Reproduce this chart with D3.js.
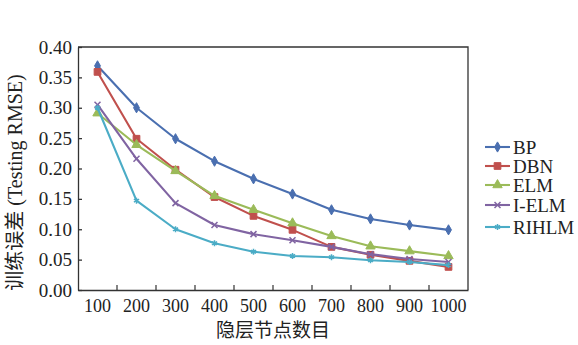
<!DOCTYPE html>
<html>
<head>
<meta charset="utf-8">
<script src="https://cdn.jsdelivr.net/npm/d3@7"></script>
<style>
  body { margin: 0; background: #fff; }
  svg text { font-family: "Liberation Serif", "Times New Roman", "Noto Sans CJK SC", serif; fill: #222; }
</style>
</head>
<body>
<div id="chart"></div>
<script>
const nodes = ["100", "200", "300", "400", "500", "600", "700", "800", "900", "1000"];
const bp    = [0.369, 0.300, 0.249, 0.212, 0.183, 0.158, 0.132, 0.117, 0.107, 0.099];
const dbn   = [0.359, 0.249, 0.198, 0.153, 0.122, 0.099, 0.071, 0.058, 0.048, 0.038];
const elm   = [0.291, 0.239, 0.196, 0.155, 0.132, 0.110, 0.089, 0.072, 0.064, 0.056];
const ielm  = [0.305, 0.216, 0.143, 0.107, 0.092, 0.082, 0.071, 0.059, 0.051, 0.046];
const rihlm = [0.300, 0.147, 0.100, 0.077, 0.063, 0.056, 0.054, 0.049, 0.046, 0.041];
const yTicks = [0, 0.05, 0.10, 0.15, 0.20, 0.25, 0.30, 0.35, 0.40];

const series = [
    {name: "BP",    values: bp,    color: "#4a6fb0", symbol: d3.symbolDiamond,  size: 30, fill: true},
    {name: "DBN",   values: dbn,   color: "#c0504d", symbol: d3.symbolSquare,   size: 45, fill: true},
    {name: "ELM",   values: elm,   color: "#9bbb59", symbol: d3.symbolTriangle, size: 38, fill: true},
    {name: "I-ELM", values: ielm,  color: "#8064a2", symbol: d3.symbolTimes,    size: 25, fill: false},
    {name: "RIHLM", values: rihlm, color: "#4bacc6", symbol: d3.symbolAsterisk, size: 25, fill: false}
];

const margin = {top: 47, right: 110, bottom: 55, left: 78};
const W = 578, H = 345;
const width = W - margin.left - margin.right,
      height = H - margin.top - margin.bottom;

const svg = d3.select("#chart")
    .append("svg")
    .attr("width", W)
    .attr("height", H)
    .append("g")
    .attr("transform", "translate(" + margin.left + "," + margin.top + ")");

let x = d3.scaleBand()
    .domain(nodes)
    .range([0, width]);

let y = d3.scaleLinear()
    .domain([0, 0.4])
    .range([height, 0]);

// y axis, ticks pointing inward
svg.append("g")
    .call(d3.axisLeft(y)
        .tickValues(yTicks)
        .tickFormat(d3.format(".2f"))
        .tickSizeInner(-4)
        .tickSizeOuter(0)
        .tickPadding(6))
    .call(g => g.selectAll("text").style("font-size", "19px"))
    .call(g => g.selectAll("line, path").attr("stroke", "#333").attr("stroke-width", 1.3));

// x axis labels at band centres
svg.append("g")
    .attr("transform", "translate(0," + height + ")")
    .call(d3.axisBottom(x)
        .tickSize(0)
        .tickPadding(9))
    .call(g => g.selectAll("text").style("font-size", "18px"))
    .call(g => g.select("path").attr("stroke", "#333").attr("stroke-width", 1.3));

// x ticks sit on band boundaries
svg.append("g")
    .selectAll("line")
    .data(nodes.slice(1))
    .join("line")
    .attr("x1", d => x(d))
    .attr("x2", d => x(d))
    .attr("y1", height)
    .attr("y2", height - 5)
    .attr("stroke", "#333")
    .attr("stroke-width", 1.2);

// top and right frame
svg.append("path")
    .attr("d", "M0,0H" + width + "V" + height)
    .attr("fill", "none")
    .attr("stroke", "#333")
    .attr("stroke-width", 1.3);

const line = d3.line()
    .x((d, i) => x(nodes[i]) + x.bandwidth() / 2)
    .y(d => y(d));

series.forEach(s => {
    svg.append("path")
        .datum(s.values)
        .attr("fill", "none")
        .attr("stroke", s.color)
        .attr("stroke-width", 2.1)
        .attr("stroke-linejoin", "round")
        .attr("d", line);

    svg.append("g")
        .selectAll("path")
        .data(s.values)
        .join("path")
        .attr("transform", (d, i) => "translate(" + (x(nodes[i]) + x.bandwidth() / 2) + "," + y(d) + ")")
        .attr("d", d3.symbol().type(s.symbol).size(s.size))
        .attr("fill", s.fill ? s.color : "none")
        .attr("stroke", s.color)
        .attr("stroke-width", s.fill ? 1 : 1.5);
});

// legend
const legendY = [147, 166, 185, 205, 227];
const legend = svg.append("g")
    .attr("transform", "translate(" + (width + 17) + ",0)");
series.forEach((s, i) => {
    const ly = legendY[i] - margin.top;
    legend.append("line")
        .attr("x1", 0).attr("x2", 25)
        .attr("y1", ly).attr("y2", ly)
        .attr("stroke", s.color)
        .attr("stroke-width", 2.1);
    legend.append("path")
        .attr("transform", "translate(12.5," + ly + ")")
        .attr("d", d3.symbol().type(s.symbol).size(s.size))
        .attr("fill", s.fill ? s.color : "none")
        .attr("stroke", s.color)
        .attr("stroke-width", s.fill ? 1 : 1.5);
    legend.append("text")
        .attr("x", 28)
        .attr("y", ly)
        .attr("dy", "0.35em")
        .style("font-size", "19px")
        .text(s.name);
});

// axis titles
svg.append("text")
    .attr("x", width / 2)
    .attr("y", height + 47)
    .attr("text-anchor", "middle")
    .style("font-size", "19px")
    .text("隐层节点数目");

svg.append("text")
    .attr("transform", "translate(-56," + (height / 2 + 14) + ") rotate(-90)")
    .attr("text-anchor", "middle")
    .style("font-size", "20px")
    .text("训练误差 (Testing RMSE)");
</script>
</body>
</html>
